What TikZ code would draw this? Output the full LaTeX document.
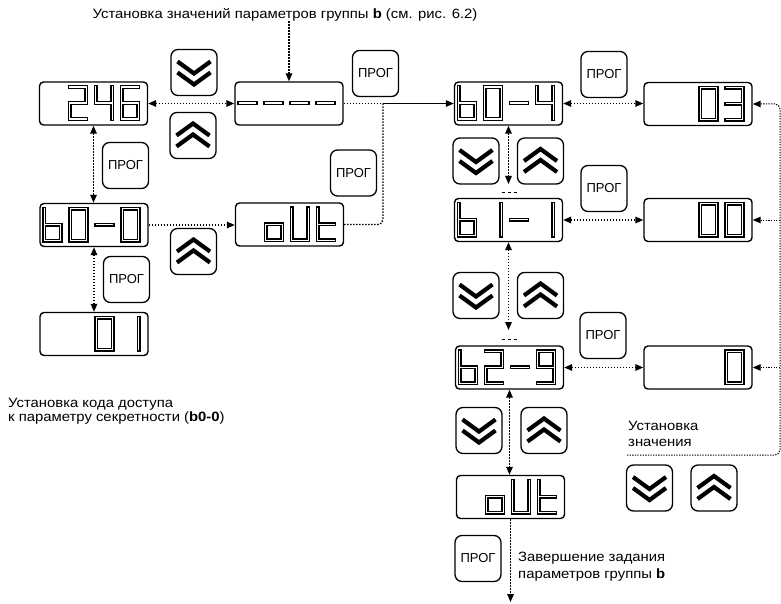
\documentclass[tikz,border=0pt]{standalone}
\usepackage{fontspec}
\usetikzlibrary{arrows.meta,calc}
\newfontfamily\lblfont[FakeStretch=1.1]{Liberation Sans}
\newfontfamily\progfont{Liberation Sans}
\tikzset{
  disp/.style={draw, line width=1.4pt, rounded corners=4pt, minimum width=108pt, minimum height=43pt, inner sep=0pt},
  btn/.style={draw, line width=1.3pt, rounded corners=7pt, minimum width=46pt, minimum height=46pt, inner sep=0pt},
  progbtn/.style={btn, font=\progfont\fontsize{13}{14}\selectfont},
  seg/.style={draw=black, line width=1.35pt, double=white, double distance=1.2pt, line join=miter, line cap=rect},
  chev/.style={draw=black, line width=4.2pt, line join=miter},
  dl/.style={line width=1.4pt, dash pattern=on 1.5pt off 1.5pt},
  thindl/.style={line width=1pt, dash pattern=on 1.3pt off 1.3pt},
  onearr/.style={-{Triangle[length=8pt,width=6.5pt]}},
  twoarr/.style={{Triangle[length=8pt,width=6.5pt]}-{Triangle[length=8pt,width=6.5pt]}},
  lbl/.style={font=\lblfont\fontsize{13.5}{15}\selectfont, inner sep=0pt},
  dashes3/.style={line width=1.1pt, dash pattern=on 3pt off 3pt},
  dgzero/.pic={\path[seg] (0,0)--(16.5,0)--(16.5,32)--(0,32)--cycle;},
  dgone/.pic={\path[seg] (16.5,0)--(16.5,32);},
  dgtwo/.pic={\path[seg] (0,0)--(16.5,0)--(16.5,16)--(0,16)--(0,32)--(16.5,32);},
  dgthree/.pic={\path[seg] (0,0)--(16.5,0)--(16.5,32)--(0,32) (0,16)--(16.5,16);},
  dgfour/.pic={\path[seg] (0,0)--(0,16)--(16.5,16) (16.5,0)--(16.5,32);},
  dgsix/.pic={\path[seg] (16.5,0)--(0,0)--(0,32)--(16.5,32)--(16.5,16)--(0,16);},
  dgnine/.pic={\path[seg] (0,32)--(16.5,32)--(16.5,0)--(0,0)--(0,16)--(16.5,16);},
  dgb/.pic={\path[seg] (0,0)--(0,32)--(16.5,32)--(16.5,16)--(0,16);},
  dgminus/.pic={\path[seg] (0,16)--(16.5,16);},
  dgo/.pic={\path[seg] (0,16)--(16.5,16)--(16.5,32)--(0,32)--cycle;},
  dgU/.pic={\path[seg] (0,0)--(0,32)--(16.5,32)--(16.5,0);},
  dgt/.pic={\path[seg] (0,0)--(0,32)--(16.5,32) (0,16)--(16.5,16);},
  chevdown/.pic={\path[chev] (-16.5,-11)--(0,1)--(16.5,-11) (-16.5,0)--(0,12)--(16.5,0);},
  chevup/.pic={\path[chev] (-16.5,11)--(0,-1)--(16.5,11) (-16.5,0)--(0,-12)--(16.5,0);},
}
\newcommand\putdig[3]{\pic at ($(#1.north west)+({4.8+26*#2},5.8)$) {#3};}
\newcommand\downbtn[2]{\node[btn] (#1) at (#2) {}; \pic at (#1) {chevdown};}
\newcommand\upbtn[2]{\node[btn] (#1) at (#2) {}; \pic at (#1) {chevup};}
\begin{document}
\begin{tikzpicture}[x=1pt,y=-1pt]
\useasboundingbox (0,0) rectangle (781,604);

% displays
\node[disp] (d246) at (93.5,103.5) {};
\node[disp] (ddash) at (289,103.5) {};
\node[disp] (db00) at (94,225) {};
\node[disp] (doutl) at (289.5,224.5) {};
\node[disp] (d01) at (94,334) {};
\node[disp] (db04) at (508.5,103.5) {};
\node[disp] (d03) at (698,104) {};
\node[disp] (db11) at (508.5,220) {};
\node[disp] (d00) at (698,220) {};
\node[disp] (db29) at (509.5,367.5) {};
\node[disp] (d0) at (698,367.5) {};
\node[disp] (doutb) at (510.5,497) {};

% digits
\putdig{d246}{1}{dgtwo}\putdig{d246}{2}{dgfour}\putdig{d246}{3}{dgsix}
\putdig{ddash}{0}{dgminus}\putdig{ddash}{1}{dgminus}\putdig{ddash}{2}{dgminus}\putdig{ddash}{3}{dgminus}
\putdig{db00}{0}{dgb}\putdig{db00}{1}{dgzero}\putdig{db00}{2}{dgminus}\putdig{db00}{3}{dgzero}
\putdig{doutl}{1}{dgo}\putdig{doutl}{2}{dgU}\putdig{doutl}{3}{dgt}
\putdig{d01}{2}{dgzero}\putdig{d01}{3}{dgone}
\putdig{db04}{0}{dgb}\putdig{db04}{1}{dgzero}\putdig{db04}{2}{dgminus}\putdig{db04}{3}{dgfour}
\putdig{d03}{2}{dgzero}\putdig{d03}{3}{dgthree}
\putdig{db11}{0}{dgb}\putdig{db11}{1}{dgone}\putdig{db11}{2}{dgminus}\putdig{db11}{3}{dgone}
\putdig{d00}{2}{dgzero}\putdig{d00}{3}{dgzero}
\putdig{db29}{0}{dgb}\putdig{db29}{1}{dgtwo}\putdig{db29}{2}{dgminus}\putdig{db29}{3}{dgnine}
\putdig{d0}{3}{dgzero}
\putdig{doutb}{1}{dgo}\putdig{doutb}{2}{dgU}\putdig{doutb}{3}{dgt}

% arrow buttons
\downbtn{bdtop}{194,72.5}
\upbtn{butop}{193,135.5}
\upbtn{bumid}{193.5,251.5}
\downbtn{bd1}{476,161}
\upbtn{bu1}{540.5,161}
\downbtn{bd2}{476,295.5}
\upbtn{bu2}{540.5,295.5}
\downbtn{bd3}{479,430.5}
\upbtn{bu3}{544,430.5}
\downbtn{bd4}{649.5,488}
\upbtn{bu4}{714,488}

% PROG buttons
\node[progbtn] (p1) at (375.5,73.5) {ПРОГ};
\node[progbtn] (p2) at (353.5,173) {ПРОГ};
\node[progbtn] (p3) at (125.5,165.5) {ПРОГ};
\node[progbtn] (p4) at (126.5,279.5) {ПРОГ};
\node[progbtn] (p5) at (604,74.5) {ПРОГ};
\node[progbtn] (p6) at (604,188.5) {ПРОГ};
\node[progbtn] (p7) at (603,335.5) {ПРОГ};
\node[progbtn] (p8) at (478,558.5) {ПРОГ};

% labels
\node[lbl, anchor=base] (ttop) at (285,18.3) {Установка значений параметров группы \textbf{b} (см. рис. 6.2)};
\node[lbl, anchor=north west, align=left, font=\lblfont\fontsize{13.5}{13.5}\selectfont] (tleft) at (8,398.5) {Установка кода доступа\\к параметру секретности (\textbf{b0-0})};
\node[lbl, anchor=north west, align=left, font=\lblfont\fontsize{13.5}{16}\selectfont] (tval) at (628,421.5) {Установка\\значения};
\node[lbl, anchor=north west, align=left, font=\lblfont\fontsize{13.5}{17.5}\selectfont] (tend) at (518,551.5) {Завершение задания\\параметров группы \textbf{b}};

% coordinates
\coordinate (J) at (383,103.5);
\coordinate (rb) at (780,455);
\coordinate (rs) at (627,455);
\coordinate (e1) at (508.5,184);
\coordinate (e2) at (508.5,330);
\coordinate (e3) at (510.5,602);

% connectors left
\draw[dl, onearr] (ddash.north |- ttop.south) -- (ddash.north);
\draw[dl, twoarr] (d246.east) -- (ddash.west |- d246.east);
\draw[dl] (ddash.east) -- (J);
\draw[dl, rounded corners=5pt] (doutl.east) -| (J);
\draw[line width=1.1pt, onearr] (J) -- (db04.west |- J);
\draw[dl, onearr] (db00.east) -- (doutl.west |- db00.east);
\draw[dl, twoarr] (d246.south) -- (d246.south |- db00.north);
\draw[dl, twoarr] (db00.south) -- (db00.south |- d01.north);

% connectors right
\draw[dl, twoarr] (db04.east) -- (d03.west |- db04.east);
\draw[dl, twoarr] (db11.east) -- (d00.west |- db11.east);
\draw[dl, twoarr] (db29.east) -- (d0.west |- db29.east);
\draw[dl, twoarr] (db04.south) -- (e1);
\draw[dashes3] ($(db11.north)+(-7,-5)$) -- ($(db11.north)+(8,-5)$);
\draw[dl, twoarr] (db11.south) -- (e2);
\draw[dashes3] ($(db29.north)+(-8,-6)$) -- ($(db29.north)+(7,-6)$);
\draw[dl, twoarr] (db29.south) -- (db29.south |- doutb.north);
\draw[dl, onearr] (doutb.south) -- (e3);

\draw[thindl, onearr, rounded corners=5pt] (rs) -- (rb) -- (d03.east -| rb) -- (d03.east);
\draw[thindl, onearr] (d00.east -| rb) -- (d00.east);
\draw[thindl, onearr] (d0.east -| rb) -- (d0.east);
\end{tikzpicture}
\end{document}
